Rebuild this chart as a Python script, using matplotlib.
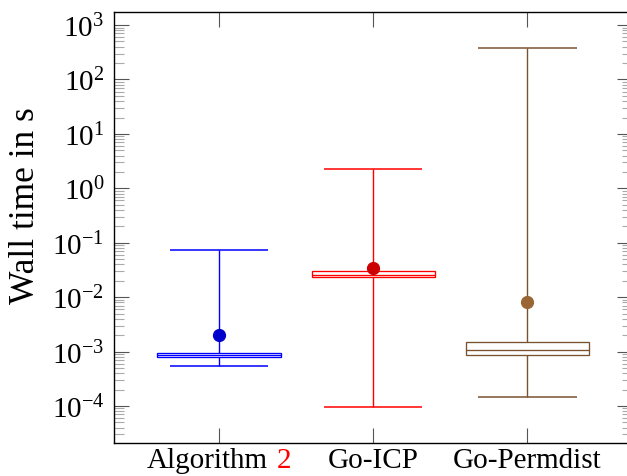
import matplotlib
matplotlib.use("Agg")
import matplotlib.pyplot as plt
from matplotlib.patches import Rectangle
from matplotlib.offsetbox import TextArea, HPacker, AnnotationBbox
from matplotlib.ticker import LogLocator, NullFormatter

plt.rcParams["font.family"] = ["Liberation Serif", "DejaVu Serif"]
plt.rcParams["mathtext.fontset"] = "stix"

# Wall-time statistics per method (seconds)
methods = ["Algorithm 2", "Go-ICP", "Go-Permdist"]
lower_whisker = [0.00055, 9.4e-5, 0.000144]
q1 = [0.00079, 0.0234, 0.00085]
median = [0.00086, 0.0258, 0.00105]
q3 = [0.00094, 0.0306, 0.0015]
upper_whisker = [0.0743, 2.29, 375.0]
mean = [0.00199, 0.0343, 0.0082]

line_colors = ["#0000ff", "#ff0000", "#7a5230"]
mean_colors = ["#0000cc", "#cc0000", "#996633"]

box_width = 0.8
cap_width = 0.64

fig = plt.figure(figsize=(6.27, 4.77), dpi=100)
W, H = 627, 477
ax = fig.add_axes([114 / W, (H - 444) / H, (632 - 114) / W, (444 - 13) / H])

for i in range(len(methods)):
    pos = i + 1
    c = line_colors[i]
    # whisker stem
    ax.plot([pos, pos], [lower_whisker[i], upper_whisker[i]], color=c,
            lw=1.0, zorder=1, solid_capstyle="butt")
    # caps
    for v in (lower_whisker[i], upper_whisker[i]):
        ax.plot([pos - cap_width / 2, pos + cap_width / 2], [v, v], color=c,
                lw=1.1, zorder=1, solid_capstyle="butt")
    # box
    ax.add_patch(Rectangle((pos - box_width / 2, q1[i]), box_width,
                           q3[i] - q1[i], facecolor="white", edgecolor=c,
                           lw=0.95, zorder=2))
    ax.plot([pos - box_width / 2, pos + box_width / 2], [median[i], median[i]],
            color=c, lw=0.95, zorder=3, solid_capstyle="butt")
    # mean
    ax.plot([pos], [mean[i]], marker="o", ms=8.5, color=mean_colors[i],
            mec=mean_colors[i], zorder=4)

ax.set_yscale("log")
ax.set_ylim(10 ** -4.68, 10 ** 3.24)
ax.set_xlim(0.318, 3.68)

ax.yaxis.set_major_locator(LogLocator(base=10, numticks=20))
ax.yaxis.set_minor_locator(LogLocator(base=10, subs=range(2, 10), numticks=20))
ax.yaxis.set_minor_formatter(NullFormatter())
ax.set_yticks([10.0 ** k for k in range(-4, 4)])

ax.set_xticks([1, 2, 3])
ax.set_xticklabels(["", methods[1], methods[2]], fontsize=21)

ax.tick_params(axis="both", which="major", direction="in", length=11,
               width=0.8, color="#555555", top=True, right=True)
ax.tick_params(axis="y", which="minor", direction="in", length=7,
               width=0.8, color="#aaaaaa", right=True)
ax.tick_params(axis="y", which="major", labelsize=21, pad=7)
ax.tick_params(axis="x", which="major", pad=3.2)
for sp in ax.spines.values():
    sp.set_linewidth(1.0)
    sp.set_color("black")

# first category label: method name with a red reference number
parts = HPacker(children=[
    TextArea("Algorithm", textprops=dict(fontsize=21, color="black",
                                         fontfamily="Liberation Serif")),
    TextArea("2", textprops=dict(fontsize=21, color="red",
                                 fontfamily="Liberation Serif")),
], align="baseline", pad=0, sep=6)
ab = AnnotationBbox(parts, (1, 0), xycoords=("data", "axes fraction"),
                    xybox=(0, -3.2), boxcoords="offset points",
                    box_alignment=(0.5, 1), frameon=False, pad=0,
                    annotation_clip=False)
ax.add_artist(ab)

ax.set_ylabel("Wall time in s", fontsize=25.5)
ax.yaxis.set_label_coords(-0.139, 0.552)

fig.savefig("out.png", dpi=100)
